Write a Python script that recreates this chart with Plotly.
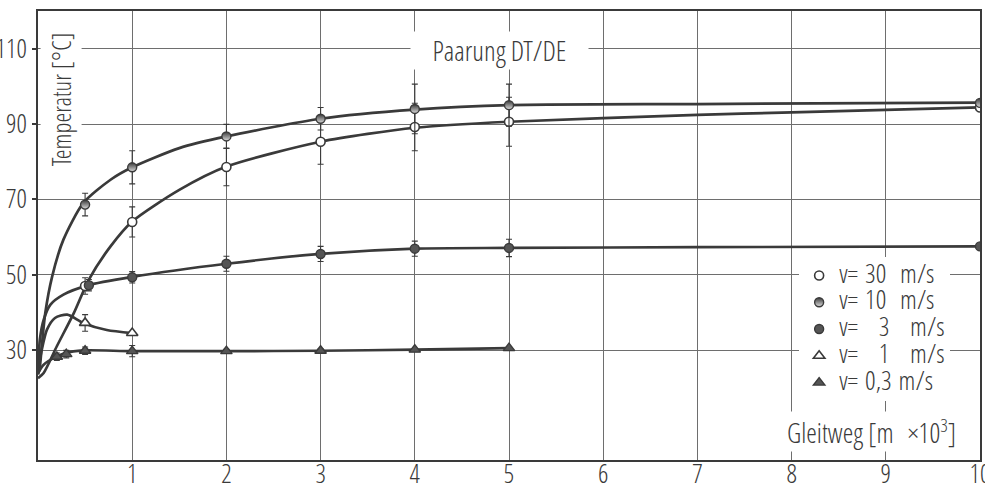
import plotly.graph_objects as go

# ---------------- data ----------------
# measured points: Gleitweg [m x 10^3] -> Temperatur [°C] with scatter band (±)
x_30 = [0.5, 1, 2, 3, 4, 5, 10]
y_30 = [47.0, 64.0, 78.6, 85.3, 89.2, 90.6, 94.4]
e_30 = [2.2, 4.0, 5.0, 6.0, 6.3, 6.5, 0]

x_10 = [0.5, 1, 2, 3, 4, 5, 10]
y_10 = [68.6, 78.5, 86.7, 91.4, 94.0, 95.0, 95.6]
e_10 = [3.0, 4.4, 3.2, 3.0, 6.6, 5.6, 0]

x_3 = [0.54, 1, 2, 3, 4, 5, 10]
y_3 = [47.2, 49.3, 52.9, 55.5, 56.9, 57.1, 57.5]
e_3 = [1.5, 1.5, 2.0, 2.0, 2.0, 2.3, 0]

x_1 = [0.5, 1]
y_1 = [37.2, 34.5]
e_1 = [2.2, 0]

x_03 = [0.2, 0.3, 0.5, 1, 2, 3, 4, 5]
y_03 = [28.2, 28.9, 29.8, 29.7, 29.7, 29.8, 30.1, 30.5]
e_03 = [1.0, 1.0, 1.0, 1.5, 0.5, 0.5, 0, 0]

# fitted curves as drawn in the picture
cx_30 = [0, 0.06, 0.2, 0.38, 0.54, 0.77, 1, 1.5, 2, 3, 4, 5, 7, 8, 9, 10]
cy_30 = [22.5, 23.9, 31.0, 39.8, 48.7, 57.5, 64.1, 72.5, 78.7, 85.3, 89.0, 90.6, 92.4, 93.1, 93.75, 94.4]

cx_10 = [0, 0.016, 0.04, 0.077, 0.15, 0.27, 0.48, 0.77, 1, 1.5, 2, 3, 4, 5, 7, 10]
cy_10 = [23.5, 24.8, 31.0, 39.8, 49.5, 59.3, 69.0, 75.2, 78.5, 83.6, 86.7, 91.4, 93.8, 95.0, 95.3, 95.7]

cx_3 = [0, 0.02, 0.06, 0.13, 0.27, 0.52, 1, 2, 3, 4, 5, 7, 10]
cy_3 = [24.5, 32.8, 38.0, 42.0, 44.7, 47.1, 49.4, 52.9, 55.5, 56.9, 57.1, 57.3, 57.5]

cx_1 = [0, 0.04, 0.095, 0.18, 0.31, 0.48, 0.73, 1]
cy_1 = [24.5, 30.1, 35.4, 38.5, 39.4, 37.2, 35.3, 34.5]

cx_03 = [0, 0.06, 0.2, 0.29, 0.48, 1, 2, 3, 4, 5]
cy_03 = [23.9, 26.1, 28.3, 29.2, 29.9, 29.7, 29.7, 29.8, 30.1, 30.5]

NB = "\u00a0"
labels = ["v=" + NB + "30" + NB * 2 + "m/s", "v=" + NB + "10" + NB * 2 + "m/s",
          "v=" + NB * 3 + "3" + NB * 3 + "m/s", "v=" + NB * 3 + "1" + NB * 3 + "m/s",
          "v=" + NB + "0,3" + NB + "m/s"]

x_ticks = [1, 2, 3, 4, 5, 6, 7, 8, 9, 10]
y_ticks = [30, 50, 70, 90, 110]

# ---------------- styling ----------------
INK = "#3a3a3a"
GRID = "#6e6e6e"
FONT = "Open Sans Condensed Light, DejaVu Sans Condensed, sans-serif"

fig = go.Figure()

for cx, cy in [(cx_30, cy_30), (cx_10, cy_10), (cx_3, cy_3), (cx_1, cy_1), (cx_03, cy_03)]:
    fig.add_trace(go.Scatter(x=cx, y=cy, mode="lines", showlegend=False, hoverinfo="skip",
                             line=dict(color=INK, width=2.7, shape="spline", smoothing=0.7)))

marker_defs = [
    (x_30, y_30, e_30, labels[0], dict(symbol="circle", color="white", size=9, line=dict(color=INK, width=1.6))),
    (x_10, y_10, e_10, labels[1], dict(symbol="circle", color=INK, size=9, line=dict(color=INK, width=1.4),
                                        gradient=dict(type="vertical", color="#dddddd"))),
    (x_3, y_3, e_3, labels[2], dict(symbol="circle", color="#555555", size=9, line=dict(color=INK, width=1.4))),
    (x_1, y_1, e_1, labels[3], dict(symbol="triangle-up", color="white", size=10, line=dict(color=INK, width=1.6))),
    (x_03, y_03, e_03, labels[4], dict(symbol="triangle-up", color="#555555", size=10, line=dict(color=INK, width=1.4))),
]
for x, y, e, name, mk in marker_defs:
    fig.add_trace(go.Scatter(x=x, y=y, mode="markers", name='<span style="font-size:26.5px">' + name + "</span>",
                             marker=mk,
                             error_y=dict(type="data", array=e, visible=True, color=INK, thickness=1.1, width=3)))

fig.add_annotation(x=4.9, y=109.5, text=NB * 3 + "Paarung DT/DE" + NB * 3, showarrow=False,
                   font=dict(family=FONT, size=27.5, color=INK), bgcolor="white", borderpad=0)
fig.add_annotation(x=8.85, y=8.4, text="Gleitweg [m" + NB * 2 + "\u00d710<sup>3</sup>]", showarrow=False,
                   font=dict(family=FONT, size=27, color=INK), bgcolor="white", borderpad=0)
fig.add_annotation(x=0.24, y=96.5, textangle=-90, text="Temperatur [°C]", showarrow=False,
                   font=dict(family=FONT, size=25, color=INK), bgcolor="white", borderpad=3)

fig.update_xaxes(range=[0, 10], tickvals=x_ticks, ticks="", ticklen=0, ticklabelstandoff=-10,
                 showgrid=True, gridcolor=GRID, gridwidth=1,
                 showline=True, linecolor=INK, linewidth=2, mirror=True, zeroline=False, automargin=False,
                 ticklabeloverflow="allow", tickfont=dict(family=FONT, size=26, color=INK))
fig.update_yaxes(range=[0.8, 120], tickvals=y_ticks, ticks="outside", ticklen=4, tickwidth=1.5, tickcolor=INK,
                 showgrid=True, gridcolor=GRID, gridwidth=1, automargin=False, ticklabeloverflow="allow",
                 showline=True, linecolor=INK, linewidth=2, mirror=True, zeroline=False,
                 tickfont=dict(family=FONT, size=26, color=INK))

fig.update_layout(
    width=985, height=483, autosize=False,
    margin=dict(l=38, r=5, t=11, b=23),
    paper_bgcolor="white", plot_bgcolor="white",
    font=dict(family=FONT, color=INK),
    hovermode=False,
    legend=dict(x=0.808, y=0.452, xanchor="left", yanchor="top", bgcolor="white", borderwidth=0,
                font=dict(family=FONT, size=18.3, color=INK), tracegroupgap=0),
)

fig.write_html("out.html", config={"displayModeBar": False},
               post_script="document.body.style.margin='0px';")
